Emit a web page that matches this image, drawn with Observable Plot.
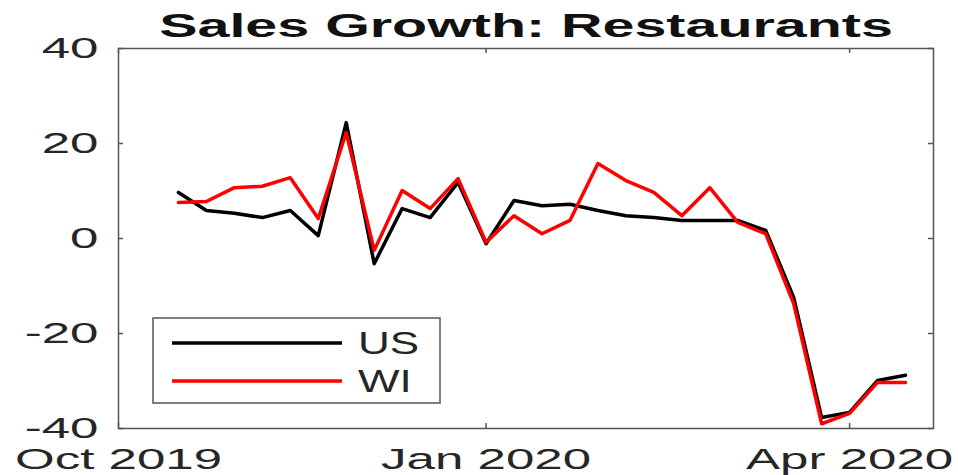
<!DOCTYPE html>
<html>
<head>
<meta charset="utf-8">
<script src="https://cdn.jsdelivr.net/npm/d3@7"></script>
<script src="https://cdn.jsdelivr.net/npm/@observablehq/plot@0.6"></script>
<style>
  html, body { margin: 0; padding: 0; background: #fff; }
</style>
</head>
<body>
<div id="chart"></div>
<script>
const titleText = "Sales Growth: Restaurants";
const weeks = [
  "2019-10-16","2019-10-23","2019-10-30","2019-11-06","2019-11-13","2019-11-20","2019-11-27",
  "2019-12-04","2019-12-11","2019-12-18","2019-12-25","2020-01-01","2020-01-08","2020-01-15",
  "2020-01-22","2020-01-29","2020-02-05","2020-02-12","2020-02-19","2020-02-26","2020-03-04",
  "2020-03-11","2020-03-18","2020-03-25","2020-04-01","2020-04-08","2020-04-15"
];
const usValues = [9.7, 5.9, 5.3, 4.4, 5.9, 0.6, 24.4, -5.3, 6.3, 4.4, 11.8, -1.1, 8.0, 6.9,
  7.2, 5.9, 4.8, 4.4, 3.8, 3.8, 3.8, 1.7, -12.4, -37.7, -36.6, -29.9, -28.8];
const wiValues = [7.6, 7.8, 10.7, 11.0, 12.8, 4.2, 22.3, -2.5, 10.1, 6.3, 12.6, -0.8, 4.8, 1.0,
  3.8, 15.8, 12.2, 9.7, 4.8, 10.7, 3.4, 1.0, -13.7, -39.0, -36.8, -30.3, -30.3];
const seriesNames = ["US", "WI"];
const seriesColors = ["#000000", "#ff0000"];
const xDomain = ["2019-10-01", "2020-04-22"];
const xTickLabels = ["2019-10-01", "2020-01-01", "2020-04-01"];
const yTicks = [-40, -20, 0, 20, 40];

const parse = s => new Date(s + "T00:00:00Z");
const usData = weeks.map((w, i) => ({date: parse(w), value: usValues[i], series: "US"}));
const wiData = weeks.map((w, i) => ({date: parse(w), value: wiValues[i], series: "WI"}));
const xTicks = xTickLabels.map(parse);

const W = 958, H = 475;
const mL = 118, mR = 25, mT = 48, mB = 47;
const innerW = W - mL - mR, innerH = H - mT - mB;
const axisColor = "#555";

const chart = Plot.plot({
  width: W,
  height: H,
  marginLeft: mL, marginRight: mR, marginTop: mT, marginBottom: mB,
  style: {fontFamily: "'Liberation Sans', Arial, sans-serif", fontSize: "29px", color: "#262626", background: "#fff"},
  x: {type: "utc", domain: xDomain.map(parse), ticks: xTicks, tickFormat: d3.utcFormat("%b %Y"), tickSize: 0, tickPadding: 20, label: null},
  y: {domain: [-40, 40], ticks: yTicks, tickFormat: d => String(d), tickSize: 0, tickPadding: 20, label: null},
  marks: [
    Plot.frame({stroke: axisColor, strokeWidth: 1.5}),
    Plot.tickX(xTicks, {x: d => d, insetTop: innerH - 5, stroke: axisColor, strokeWidth: 1.5}),
    Plot.tickX(xTicks, {x: d => d, insetBottom: innerH - 5, stroke: axisColor, strokeWidth: 1.5}),
    Plot.tickY(yTicks, {y: d => d, insetRight: innerW - 5, stroke: axisColor, strokeWidth: 1.5}),
    Plot.tickY(yTicks, {y: d => d, insetLeft: innerW - 5, stroke: axisColor, strokeWidth: 1.5}),
    Plot.line(usData, {x: "date", y: "value", stroke: seriesColors[0], strokeWidth: 3.5}),
    Plot.line(wiData, {x: "date", y: "value", stroke: seriesColors[1], strokeWidth: 3.5}),
    Plot.text([titleText], {text: d => d, frameAnchor: "top", lineAnchor: "middle", dy: -22, fontSize: 33, fontWeight: "bold", fill: "#111"})
  ]
});

document.getElementById("chart").appendChild(chart);

// horizontally stretch text like the reference rendering
function stretch(el, s) {
  const x = parseFloat(el.getAttribute("x")) || 0;
  const t = el.getAttribute("transform") || "";
  el.setAttribute("transform", `${t} translate(${x},0) scale(${s},1) translate(${-x},0)`);
}
const svg = d3.select(chart);
svg.selectAll("text").each(function() {
  const isTitle = this.textContent === titleText;
  stretch(this, isTitle ? 1.74 : 1.76);
});

// legend
const lg = svg.append("g").attr("font-family", "'Liberation Sans', Arial, sans-serif").attr("text-anchor", "start");
lg.append("rect").attr("x", 153).attr("y", 318).attr("width", 287).attr("height", 85)
  .attr("fill", "#fff").attr("stroke", axisColor).attr("stroke-width", 1.5);
const rows = [343, 381];
seriesNames.forEach((name, i) => {
  lg.append("line").attr("x1", 172).attr("x2", 342).attr("y1", rows[i]).attr("y2", rows[i])
    .attr("stroke", seriesColors[i]).attr("stroke-width", 3.5);
  const t = lg.append("text").attr("x", 358).attr("y", rows[i]).attr("dy", "0.36em")
    .attr("text-anchor", "start").attr("font-size", 31).attr("fill", "#262626").text(name);
  stretch(t.node(), 1.42);
});
</script>
</body>
</html>
